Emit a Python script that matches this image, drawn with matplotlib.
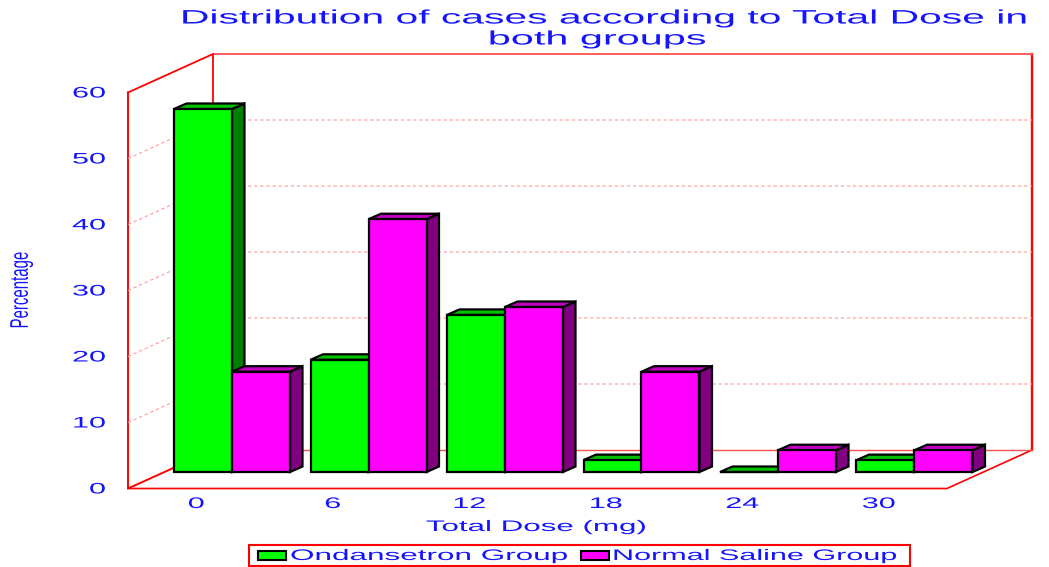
import matplotlib
matplotlib.use("Agg")
import matplotlib.pyplot as plt
from matplotlib.patches import Polygon, Rectangle
from matplotlib.patheffects import AbstractPathEffect
from matplotlib.transforms import Affine2D

categories = ["0", "6", "12", "18", "24", "30"]
ondansetron = [55, 17, 23.8, 1.8, 0, 1.8]
saline = [15.2, 38.3, 25, 15.2, 3.3, 3.3]
y_ticks = [0, 10, 20, 30, 40, 50, 60]
title_lines = ["Distribution of cases according to Total Dose in", "both groups"]
xlabel = "Total Dose (mg)"
ylabel = "Percentage"
series_names = ["Ondansetron Group", "Normal Saline Group"]

W, H = 1049, 567
BLUE = "#1414ff"
RED = "#ff0000"
fig = plt.figure(figsize=(W / 100, H / 100), dpi=100)
ax = fig.add_axes([128 / W, 1 - 488.5 / H, 819 / W, 396 / H])
ax.set_xlim(0, len(categories))
ax.set_ylim(0, 60)
ax.axis("off")

PX = 819 / len(categories)
PY = 396 / 60
wall_dx, wall_dy = 85 / PX, 38.5 / PY
nx = len(categories)


class Stretch(AbstractPathEffect):
    """Widens the glyphs of a text along the screen x axis about a fixed pixel column."""
    def __init__(self, sx, cx):
        super().__init__()
        self.sx, self.cx = sx, cx

    def draw_path(self, renderer, gc, tpath, affine, rgbFace=None):
        extra = Affine2D().translate(-self.cx, 0).scale(self.sx, 1).translate(self.cx, 0)
        renderer.draw_path(gc, tpath, affine + extra, rgbFace)


def label(xpx, ypx, s, size, sx=2.0, ha="center", rotation=0):
    t = fig.text(xpx / W, 1 - ypx / H, s, ha=ha, va="center", rotation=rotation, color=BLUE,
                 fontsize=size, family="Liberation Sans")
    t.set_path_effects([Stretch(sx, xpx)])
    return t


def line(xs, ys, **kw):
    ax.plot(xs, ys, clip_on=False, solid_capstyle="projecting", **kw)


# frame
line([0, nx, nx + wall_dx], [0, 0, wall_dy], color=RED, lw=1.2, zorder=1)
line([nx + wall_dx, nx + wall_dx], [wall_dy, 60 + wall_dy], color=RED, lw=1.7, zorder=1)
line([wall_dx, nx + wall_dx], [60 + wall_dy, 60 + wall_dy], color="#ff5050", lw=1.3, zorder=1)
line([0, wall_dx, wall_dx], [60, 60 + wall_dy, wall_dy], color=RED, lw=1.3, zorder=1)
line([0, 0, wall_dx], [60, 0, wall_dy], color=RED, lw=1.4, zorder=1)
line([wall_dx, nx + wall_dx], [wall_dy, wall_dy], color="#ff5050", lw=1.0, zorder=1)

# grid
for v in y_ticks[1:-1]:
    ax.plot([0, wall_dx, nx + wall_dx], [v, v + wall_dy, v + wall_dy], color="#ff9a9a",
            lw=0.8, ls=(0, (3, 2.5)), clip_on=False, zorder=1)

# bars
BW = 58 / PX
X0 = 46 / PX
BASE = 16.5 / PY
DX, DY = 12.5 / PX, 5.5 / PY


def bar3d(x, v, front, top, side, z):
    y0, y1 = BASE, BASE + v
    kw = dict(edgecolor="black", lw=1.6, joinstyle="miter", clip_on=False, zorder=z)
    ax.add_patch(Polygon([(x + BW, y0), (x + BW + DX, y0 + DY), (x + BW + DX, y1 + DY), (x + BW, y1)], facecolor=side, **kw))
    ax.add_patch(Polygon([(x, y1), (x + DX, y1 + DY), (x + BW + DX, y1 + DY), (x + BW, y1)], facecolor=top, **kw))
    ax.add_patch(Rectangle((x, y0), BW, v, facecolor=front, **kw))


for i in range(nx):
    x = i + X0
    bar3d(x + BW, saline[i], "#ff00ff", "#c000c0", "#800080", 3 + i * 2 + 1)
    bar3d(x, ondansetron[i], "#00ff00", "#00c000", "#008000", 3 + i * 2)

# labels
for c, lab in zip(range(nx), categories):
    px = ax.transData.transform((c + 0.5, 0))[0]
    label(px, 504, lab, 11)
for v in y_ticks:
    py = H - ax.transData.transform((0, v))[1]
    label(106, py + 1, str(v), 11, ha="right")
label(536, 527, xlabel, 11, sx=2.05)
label(21, 290, ylabel, 10.8, sx=1.7, rotation=90)
label(607, 19, title_lines[0], 14, sx=2.1)
label(598, 40, title_lines[1], 14, sx=2.13)

# legend
fig.patches.append(Rectangle((249 / W, 1 - 566 / H), 661 / W, 21 / H, transform=fig.transFigure,
                             facecolor="white", edgecolor=RED, lw=1.5))
for xpx, col, name, tx, sx in [(258, "#00ff00", series_names[0], 290, 2.06),
                               (581, "#ff00ff", series_names[1], 612, 2.0)]:
    fig.patches.append(Rectangle((xpx / W, 1 - 560 / H), 28 / W, 9 / H, transform=fig.transFigure,
                                 facecolor=col, edgecolor="black", lw=1.5))
    label(tx, 556, name, 11, sx=sx, ha="left")

fig.savefig("out.png", dpi=100, facecolor="white")
